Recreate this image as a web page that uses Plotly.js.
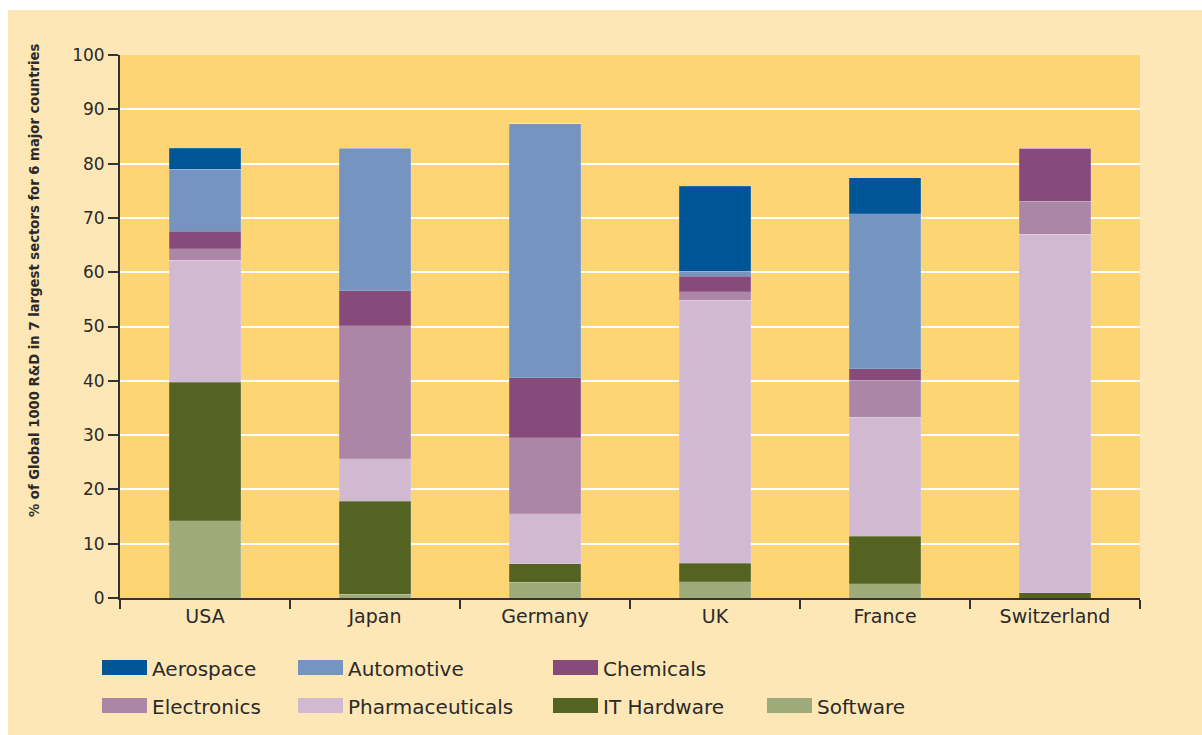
<!DOCTYPE html>
<html>
<head>
<meta charset="utf-8">
<script src="https://cdn.plot.ly/plotly-3.0.1.min.js"></script>
<style>
  html, body { margin: 0; padding: 0; background: #ffffff; }
  #chart { position: absolute; left: 8px; top: 10px; width: 1194px; height: 725px; }
</style>
</head>
<body>
<div id="chart"></div>
<script>
// Share (%) of Global 1000 R&D by sector, stacked per country
const countries = ['USA', 'Japan', 'Germany', 'UK', 'France', 'Switzerland'];

const software        = [14.2,  0.7,  2.9,  3.0,  2.6,  0.0];
const itHardware      = [25.5, 17.1,  3.4,  3.4,  8.8,  1.0];
const pharmaceuticals = [22.5,  7.8,  9.2, 48.4, 21.9, 66.0];
const electronics     = [ 2.1, 24.5, 14.0,  1.6,  6.8,  6.1];
const chemicals       = [ 3.2,  6.5, 11.1,  2.9,  2.1,  9.7];
const automotive      = [11.5, 26.2, 46.7,  0.9, 28.6,  0.0];
const aerospace       = [ 3.8,  0.0,  0.0, 15.6,  6.6,  0.0];

const yTicks = [0, 10, 20, 30, 40, 50, 60, 70, 80, 90, 100];

// stacking order, bottom to top
const series = [
  { name: 'Software',        values: software,        color: '#9FAA7B' },
  { name: 'IT Hardware',     values: itHardware,      color: '#546322' },
  { name: 'Pharmaceuticals', values: pharmaceuticals, color: '#D0B9D1' },
  { name: 'Electronics',     values: electronics,     color: '#AB86A6' },
  { name: 'Chemicals',       values: chemicals,       color: '#864A7B' },
  { name: 'Automotive',      values: automotive,      color: '#7594C0' },
  { name: 'Aerospace',       values: aerospace,       color: '#005596' }
];

// legend reading order: two rows of entries
const legendRows = [
  ['Aerospace', 'Automotive', 'Chemicals'],
  ['Electronics', 'Pharmaceuticals', 'IT Hardware', 'Software']
];

const textColor = '#2a2a2a';
const axisColor = '#333333';

const traces = series.map(s => ({
  type: 'bar',
  name: s.name,
  x: countries,
  y: s.values,
  marker: { color: s.color, line: { color: 'rgba(255,255,255,0.25)', width: 0.6 } },
  hovertemplate: '%{x}<br>' + s.name + ': %{y}%<extra></extra>'
}));

// plot area geometry inside the div (pixels)
const M = { l: 112, t: 45, r: 62, b: 137 };
const W = 1194, H = 725;
const plotW = W - M.l - M.r, plotH = H - M.t - M.b;
const px = x => (x - M.l) / plotW;          // div x -> paper x
const py = y => (M.t + plotH - y) / plotH;  // div y -> paper y

const colX = [94, 290, 545, 759];
const rowY = [657.5, 695.5];

const shapes = [];
const annotations = [];
legendRows.forEach((row, r) => {
  row.forEach((name, c) => {
    const s = series.find(d => d.name === name);
    shapes.push({
      type: 'rect', xref: 'paper', yref: 'paper',
      x0: px(colX[c]), x1: px(colX[c] + 45),
      y0: py(rowY[r] + 7.5), y1: py(rowY[r] - 7.5),
      fillcolor: s.color, line: { width: 0 }
    });
    annotations.push({
      xref: 'paper', yref: 'paper',
      x: px(colX[c] + 48), y: py(rowY[r] + 1),
      xanchor: 'left', yanchor: 'middle',
      text: name, showarrow: false,
      font: { family: 'DejaVu Sans, sans-serif', size: 20, color: textColor }
    });
  });
});

annotations.push({
  xref: 'paper', yref: 'paper',
  x: px(25), y: py(270),
  xanchor: 'center', yanchor: 'middle',
  textangle: -90, showarrow: false,
  text: '% of Global 1000 R&D in 7 largest sectors for 6 major countries',
  font: { family: 'DejaVu Sans Condensed, Liberation Sans Narrow, sans-serif', size: 14.7, weight: 'bold', color: textColor }
});

const layout = {
  width: W, height: H,
  margin: M,
  barmode: 'stack',
  bargap: 0.58,
  showlegend: false,
  paper_bgcolor: '#FEE7B6',
  plot_bgcolor: '#FED574',
  font: { family: 'DejaVu Sans, sans-serif', color: textColor },
  xaxis: {
    type: 'category',
    showline: true, linecolor: axisColor, linewidth: 2,
    ticks: 'outside', tickson: 'boundaries', ticklen: 9, tickwidth: 2, tickcolor: axisColor,
    showgrid: false,
    tickfont: { family: 'DejaVu Sans, sans-serif', size: 19, color: textColor }
  },
  yaxis: {
    range: [0, 100],
    tickvals: yTicks,
    ticktext: yTicks.map(String),
    showline: true, linecolor: axisColor, linewidth: 2,
    ticks: 'outside', ticklen: 10, tickwidth: 2, tickcolor: axisColor,
    showgrid: true, gridcolor: '#ffffff', gridwidth: 2,
    zeroline: false,
    tickfont: { family: 'DejaVu Sans, sans-serif', size: 17, color: textColor }
  },
  shapes: shapes,
  annotations: annotations
};

Plotly.newPlot('chart', traces, layout, { displayModeBar: false, staticPlot: true });
</script>
</body>
</html>
